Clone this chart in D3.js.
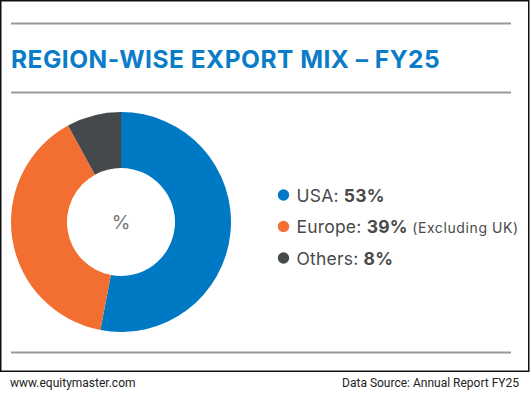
<!doctype HTML>
<html lang='en'>
<head>
	<meta charset='utf-8'>
	<title>Region-wise export mix</title>
	<script src='https://d3js.org/d3.v7.min.js'></script>
	<style>
		html, body { margin: 0; padding: 0; background: #fff; }
		svg { display: block; font-family: Inter, 'Open Sans', sans-serif; }
	</style>
</head>
<body>
	<div id='container'></div>
	<script>
		// Data
		const regions = ['USA', 'Europe', 'Others'];
		const shares = [53, 39, 8];
		const notes = ['', '(Excluding UK)', ''];
		const colours = ['#0079c5', '#f26f31', '#45494b'];

		const width = 530, height = 395;
		const svg = d3.select('#container').append('svg')
			.attr('width', width)
			.attr('height', height);

		// Frame
		svg.append('rect')
			.attr('x', 0.75).attr('y', 0.75)
			.attr('width', 528).attr('height', 370.5)
			.attr('fill', 'none')
			.attr('stroke', '#111')
			.attr('stroke-width', 1.5);

		// Rules
		[23.5, 92.5, 352.5].forEach(y => {
			svg.append('line')
				.attr('x1', 11).attr('x2', 511)
				.attr('y1', y).attr('y2', y)
				.attr('stroke', '#999')
				.attr('stroke-width', 2);
		});

		// Title
		svg.append('text')
			.attr('x', 11).attr('y', 68)
			.attr('fill', '#0a7cc8')
			.style('font-size', '24.5px')
			.style('font-weight', 700)
			.style('letter-spacing', '0.5px')
			.text('REGION-WISE EXPORT MIX – FY25');

		// Donut
		const cx = 121, cy = 222;
		const pie = d3.pie().sort(null).value(d => d);
		const arc = d3.arc().innerRadius(54).outerRadius(110);
		const colour = d3.scaleOrdinal().domain(regions).range(colours);

		const g = svg.append('g').attr('transform', `translate(${cx},${cy})`);
		g.selectAll('path')
			.data(pie(shares))
			.join('path')
			.attr('d', arc)
			.attr('fill', (d, i) => colour(regions[i]));

		g.append('text')
			.attr('text-anchor', 'middle')
			.attr('y', 7)
			.attr('fill', '#777')
			.style('font-size', '19px')
			.text('%');

		// Legend
		const rowY = d3.scalePoint().domain(regions).range([195, 258]);
		const legend = svg.append('g').selectAll('g')
			.data(regions)
			.join('g')
			.attr('transform', d => `translate(283.5,${rowY(d)})`);

		legend.append('circle')
			.attr('r', 5.7)
			.attr('fill', d => colour(d));

		const label = legend.append('text')
			.attr('x', 13)
			.attr('y', 6.5)
			.attr('fill', '#4a4a4a')
			.style('font-size', '17.5px')
			.style('letter-spacing', '0.2px');
		label.append('tspan').text(d => d + ': ');
		label.append('tspan')
			.style('font-weight', 700)
			.text((d, i) => shares[i] + '%');
		label.append('tspan')
			.style('font-size', '14px')
			.style('letter-spacing', '0.6px')
			.text((d, i) => notes[i] ? ' ' + notes[i] : '');

		// Footer
		svg.append('text')
			.attr('x', 10).attr('y', 387)
			.attr('fill', '#222')
			.style('font-family', 'Roboto, sans-serif')
			.style('font-size', '12px')
			.text('www.equitymaster.com');

		svg.append('text')
			.attr('x', 519).attr('y', 387)
			.attr('text-anchor', 'end')
			.attr('fill', '#222')
			.style('font-family', 'Roboto, sans-serif')
			.style('font-size', '12px')
			.text('Data Source: Annual Report FY25');
	</script>
</body>
</html>
